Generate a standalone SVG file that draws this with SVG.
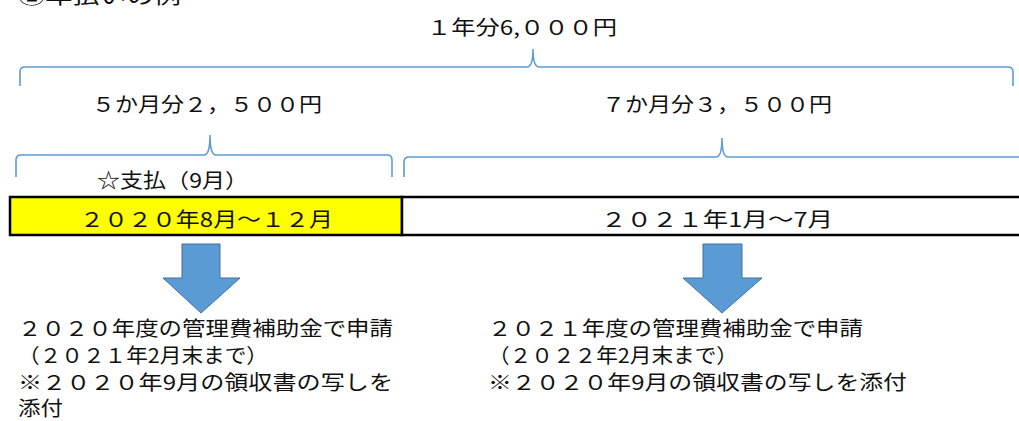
<svg xmlns="http://www.w3.org/2000/svg" width="1019" height="421" viewBox="0 0 1019 421">
<style>
text{font-family:"Noto Sans CJK JP","Noto Sans CJK SC",sans-serif;font-size:20px;fill:#111;}
.brace{fill:none;stroke:#5B9BD5;stroke-width:1.6;}
.box{stroke:#000;stroke-width:2.5;}
.arrow{fill:#5B9BD5;stroke:#41719C;stroke-width:1;}
</style>
<rect width="1019" height="421" fill="#fff"/>
<text id="title" x="18" y="4" font-size="22" textLength="163" lengthAdjust="spacingAndGlyphs">②年払いの例</text>
<g id="connectors">
<path class="brace" d="M20,86 L20,72 Q20,67 25,67 L527,67 Q533,67 533,49 Q533,67 539,67 L1008,67 Q1013,67 1013,72 L1013,86"/>
<path class="brace" d="M16,177 L16,160 Q16,155 21,155 L204,155 Q210,155 210,135 Q210,155 216,155 L387,155 Q392,155 392,160 L392,177"/>
<path class="brace" d="M404,177 L404,162 Q404,157 409,157 L716,157 Q722,157 722,138 Q722,157 728,157 L1030,157"/>
</g>
<g id="total"><text x="427" y="35" textLength="190" lengthAdjust="spacingAndGlyphs">１年分6,０００円</text></g>
<g id="part1-label"><text x="92" y="112" textLength="230" lengthAdjust="spacingAndGlyphs">５か月分２，５００円</text></g>
<g id="part2-label"><text x="602" y="112" textLength="230" lengthAdjust="spacingAndGlyphs">７か月分３，５００円</text></g>
<g id="payment"><text x="97" y="188" textLength="151" lengthAdjust="spacingAndGlyphs">☆支払（9月）</text></g>
<g id="period1">
<rect class="box" x="10" y="197" width="392" height="38" fill="#FFFF00"/>
<text x="80" y="227" textLength="253" lengthAdjust="spacingAndGlyphs">２０２０年8月～１２月</text>
</g>
<g id="period2">
<rect class="box" x="402" y="197" width="625" height="38" fill="#fff"/>
<text x="601" y="227" textLength="232" lengthAdjust="spacingAndGlyphs">２０２１年1月～7月</text>
</g>
<g id="arrow1"><path class="arrow" d="M182,244 L220,244 L220,278 L240,278 L201,313 L163,278 L182,278 Z"/></g>
<g id="arrow2"><path class="arrow" d="M703,244 L742,244 L742,278 L762,278 L722,313 L683,278 L703,278 Z"/></g>
<g id="note1">
<text x="18" y="336" textLength="375" lengthAdjust="spacingAndGlyphs">２０２０年度の管理費補助金で申請</text>
<text x="18" y="363" textLength="250" lengthAdjust="spacingAndGlyphs">（２０２１年2月末まで）</text>
<text x="18" y="390" textLength="375" lengthAdjust="spacingAndGlyphs">※２０２０年9月の領収書の写しを</text>
<text x="18" y="416" textLength="45" lengthAdjust="spacingAndGlyphs">添付</text>
</g>
<g id="note2">
<text x="488" y="336" textLength="375" lengthAdjust="spacingAndGlyphs">２０２１年度の管理費補助金で申請</text>
<text x="488" y="363" textLength="250" lengthAdjust="spacingAndGlyphs">（２０２２年2月末まで）</text>
<text x="488" y="390" textLength="419" lengthAdjust="spacingAndGlyphs">※２０２０年9月の領収書の写しを添付</text>
</g>
</svg>
